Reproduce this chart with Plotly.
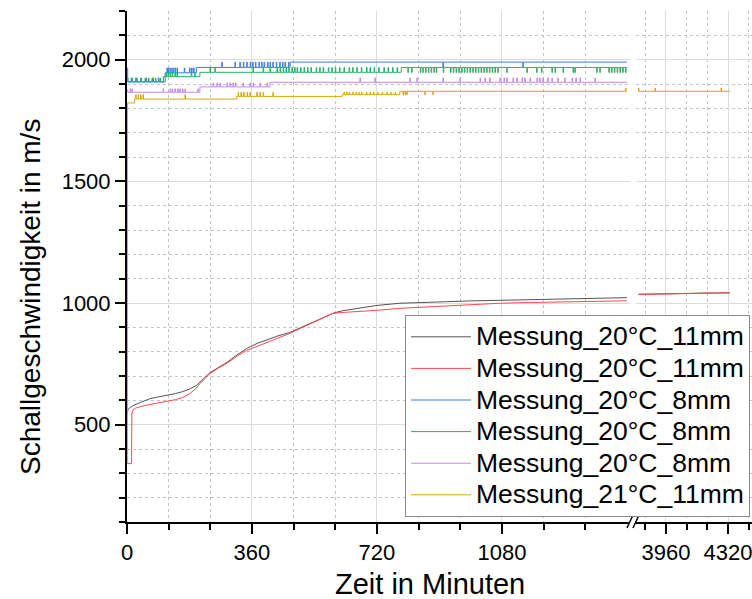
import plotly.graph_objects as go

# ---------------- data (time in minutes, sound velocity in m/s) ----------------
# Messung_20°C_11mm (black)
black_t = [0, 3, 8, 20, 40, 66, 90, 115, 140, 161, 180, 200, 220, 239, 260, 288, 315, 345, 375, 403,
           435, 469, 500, 536, 565, 594, 620, 651, 690, 720, 786, 860, 930, 1000, 1074, 1160, 1247, 1330, 1440]
black_v = [540, 562, 570, 580, 592, 607, 614, 620, 628, 636, 646, 661, 688, 714, 732, 756, 785, 813, 834, 850,
           865, 879, 898, 920, 940, 958, 968, 974, 983, 990, 999, 1003, 1007, 1009, 1011, 1013, 1015, 1018, 1022]
black_t2 = [3800, 3850, 3900, 3960, 4020, 4080, 4140, 4200, 4260, 4330]
black_v2 = [1036, 1037, 1038, 1039, 1039, 1040, 1040, 1041, 1041, 1042]

# Messung_20°C_11mm (red)
red_t = [0, 13, 14, 17, 25, 40, 66, 90, 115, 140, 161, 181, 200, 210, 239, 260, 288, 315, 345, 375, 403,
         435, 469, 500, 536, 565, 594, 620, 651, 720, 786, 835, 930, 1000, 1074, 1160, 1247, 1330, 1440]
red_v = [340, 340, 545, 560, 568, 575, 583, 589, 595, 603, 612, 628, 650, 669, 710, 730, 752, 780, 805, 822, 838,
         856, 875, 896, 920, 940, 958, 961, 963, 970, 978, 982, 990, 995, 999, 1002, 1004, 1006, 1009]
red_t2 = [3800, 3850, 3900, 3960, 4020, 4080, 4140, 4200, 4260, 4330]
red_v2 = [1035, 1036, 1037, 1038, 1039, 1039, 1040, 1040, 1041, 1041]

# Messung_20°C_8mm (blue): step levels + spikes
blue_lvl_t = [0, 2, 110, 200, 470]
blue_lvl_v = [1965, 1908, 1946, 1968, 1990]
blue_spk = [
    (1925, [12, 25, 40, 55, 75, 90]),
    (1966, [115, 120, 126, 132, 138, 144, 165, 180, 186, 192]),
    (1990, [273, 311, 325, 335, 345, 355, 362, 370, 380, 388, 395, 405, 412, 420, 430, 440, 448, 455, 465]),
    (1968, [910, 1140]),
]

# Messung_20°C_8mm (green)
green_lvl_t = [0, 3, 105, 210, 790]
green_lvl_v = [1925, 1910, 1930, 1948, 1968]
green_spk = [
    (1924, [15, 28, 40, 52, 62, 72, 82, 95]),
    (1946, [112, 118, 124, 130, 138, 144, 185, 195]),
    (1968, [239, 253, 363, 392, 412, 432, 441, 450, 458, 466, 475, 483, 490, 500, 510, 520, 530, 545, 555,
            565, 580, 590, 600, 612, 625, 640, 650, 662, 675, 690, 700, 712, 725, 740, 752, 765, 778]),
    (1947, [809, 820, 845, 852, 860, 868, 876, 884, 891, 911, 932, 940, 948, 956, 964, 972, 980, 988, 996,
            1004, 1012, 1020, 1028, 1036, 1044, 1052, 1060, 1068, 1094, 1152, 1180, 1194, 1224, 1233, 1256,
            1285, 1290, 1353, 1362, 1388, 1396, 1404, 1412, 1420, 1428, 1436]),
]

# Messung_20°C_8mm (purple)
purple_lvl_t = [0, 2, 210, 412]
purple_lvl_v = [1876, 1866, 1888, 1907]
purple_spk = [
    (1880, [9, 14, 104, 124, 130, 138, 146, 152, 160, 167, 204]),
    (1904, [248, 259, 268, 288, 297, 305, 312, 334, 354, 363, 383, 403]),
    (1925, [671, 714, 815, 835, 910, 959, 1017, 1031, 1045, 1074, 1086, 1094, 1112, 1123, 1138, 1146,
            1161, 1181, 1189, 1198, 1212, 1224, 1241, 1261, 1282, 1293, 1305, 1348]),
]

# Messung_21°C_11mm (yellow)
yellow_lvl_t = [0, 1, 22, 316, 620, 786]
yellow_lvl_v = [345, 1822, 1838, 1849, 1856, 1870]
yellow_spk = [
    (1856, [25, 32, 39, 46, 167]),
    (1866, [320, 328, 336, 346, 354, 374, 383, 392, 420, 625, 633, 640, 650, 660, 668, 676, 690, 700,
            710, 722, 735, 748, 760, 772]),
    (1856, [795, 801, 806, 858, 881]),
    (1883, [1436]),
]
yellow_lvl_t2 = [3800]
yellow_lvl_v2 = [1870]
yellow_spk2 = [(1883, [3800, 3896, 4279])]

T_END_LEFT = 1440
T_END_RIGHT = 4330

x_ticks_left = [0, 360, 720, 1080]
x_minor_left = [120, 240, 480, 600, 840, 960, 1200, 1320]
x_ticks_right = [3960, 4320]
x_minor_right = [3840, 4080, 4200, 4440]

names = ["Messung_20°C_11mm", "Messung_20°C_11mm", "Messung_20°C_8mm",
         "Messung_20°C_8mm", "Messung_20°C_8mm", "Messung_21°C_11mm"]
colors = ["#555555", "#ff4a4a", "#3a7de0", "#26b064", "#c586f0", "#d9a514"]


def build_steps(lvl_t, lvl_v, spikes, t_end, w=1.5):
    def level_at(t):
        val = lvl_v[0]
        for lt, lv in zip(lvl_t, lvl_v):
            if lt <= t:
                val = lv
        return val
    pts = list(zip(lvl_t, lvl_v))
    for sv, ts_list in spikes:
        for ts in ts_list:
            pts.append((ts, sv))
            pts.append((ts + w, level_at(ts)))
    pts.sort(key=lambda p: p[0])
    pts.append((t_end, level_at(t_end)))
    return [p[0] for p in pts], [p[1] for p in pts]


fig = go.Figure()
LEG_SIZE = 26.5


def add(i, t, v, xaxis="x", show=True, shape="linear"):
    fig.add_trace(go.Scatter(
        x=t, y=v, mode="lines",
        name='<span style="font-size:%spx">%s</span>' % (LEG_SIZE, names[i]),
        legendgroup="g%d" % i, showlegend=show,
        line=dict(color=colors[i], width=1, shape=shape), xaxis=xaxis, yaxis="y",
        hoverinfo="skip"))


add(0, black_t, black_v)
add(1, red_t, red_v)
bt, bv = build_steps(blue_lvl_t, blue_lvl_v, blue_spk, T_END_LEFT)
add(2, bt, bv, shape="hv")
gt, gv = build_steps(green_lvl_t, green_lvl_v, green_spk, T_END_LEFT)
add(3, gt, gv, shape="hv")
pt, pv = build_steps(purple_lvl_t, purple_lvl_v, purple_spk, T_END_LEFT)
add(4, pt, pv, shape="hv")
yt, yv = build_steps(yellow_lvl_t, yellow_lvl_v, yellow_spk, T_END_LEFT)
add(5, yt, yv, shape="hv")
# right segment of the broken axis
add(0, black_t2, black_v2, xaxis="x2", show=False)
add(1, red_t2, red_v2, xaxis="x2", show=False)
yt2, yv2 = build_steps(yellow_lvl_t2, yellow_lvl_v2, yellow_spk2, T_END_RIGHT, w=3)
add(5, yt2, yv2, xaxis="x2", show=False, shape="hv")

FONT = "Liberation Sans, Arial, sans-serif"
W, H = 752, 599
ML, MR, MT, MB = 127, 0, 11, 77
PW, PH = W - ML - MR, H - MT - MB


def px_x(px):  # page pixel -> paper fraction
    return (px - ML) / PW


def px_y(py):
    return (H - MB - py) / PH


def axis_style():
    return dict(
        showline=True, linecolor="black", linewidth=2, mirror=False, automargin=False,
        ticks="outside", ticklen=10, tickwidth=2, tickcolor="black",
        showgrid=True, gridcolor="#dcdcdc", gridwidth=1, zeroline=False,
        ticklabeloverflow="allow",
        tickfont=dict(family=FONT, size=22, color="black"),
    )


def minor_style(**kw):
    d = dict(ticks="outside", ticklen=6, tickwidth=2, tickcolor="black",
             showgrid=True, gridcolor="#c4c4c4", griddash="dot", gridwidth=1)
    d.update(kw)
    return d


fig.update_layout(
    width=W, height=H,
    margin=dict(l=ML, r=MR, t=MT, b=MB, autoexpand=False),
    paper_bgcolor="white", plot_bgcolor="white",
    font=dict(family=FONT, color="black"),
    xaxis=dict(domain=[0, px_x(630)], range=[0, 1449], tickmode="array", tickvals=x_ticks_left,
               anchor="y", minor=minor_style(tickmode="array", tickvals=x_minor_left), **axis_style()),
    xaxis2=dict(domain=[px_x(636), 1], range=[3786, 4459], tickmode="array", tickvals=x_ticks_right,
                anchor="y", minor=minor_style(tickmode="array", tickvals=x_minor_right), **axis_style()),
    yaxis=dict(domain=[0, 1], range=[100, 2200], tick0=0, dtick=500, anchor="x",
               minor=minor_style(dtick=100), **axis_style()),
    legend=dict(x=px_x(750), y=px_y(517), xanchor="right", yanchor="bottom",
                bgcolor="white", bordercolor="#8a8a8a", borderwidth=1,
                font=dict(family=FONT, size=22, color="black"),
                tracegroupgap=0, itemwidth=60),
    showlegend=True,
    annotations=[
        dict(text="Zeit in Minuten", xref="paper", yref="paper", x=px_x(430), y=px_y(584),
             xanchor="center", yanchor="middle", showarrow=False, font=dict(family=FONT, size=29)),
        dict(text="Schallgeschwindigkeit in m/s", xref="paper", yref="paper", x=px_x(30), y=px_y(297),
             xanchor="center", yanchor="middle", textangle=-90, showarrow=False,
             font=dict(family=FONT, size=28)),
    ],
    shapes=[
        dict(type="line", xref="paper", yref="paper", x0=px_x(627), y0=px_y(528), x1=px_x(633), y1=px_y(515),
             line=dict(color="black", width=1.5)),
        dict(type="line", xref="paper", yref="paper", x0=px_x(633), y0=px_y(528), x1=px_x(639), y1=px_y(515),
             line=dict(color="black", width=1.5)),
    ],
)

fig.write_html("out.html", config={"displayModeBar": False},
               post_script="document.body.style.margin='0px';document.body.style.overflow='hidden';")
